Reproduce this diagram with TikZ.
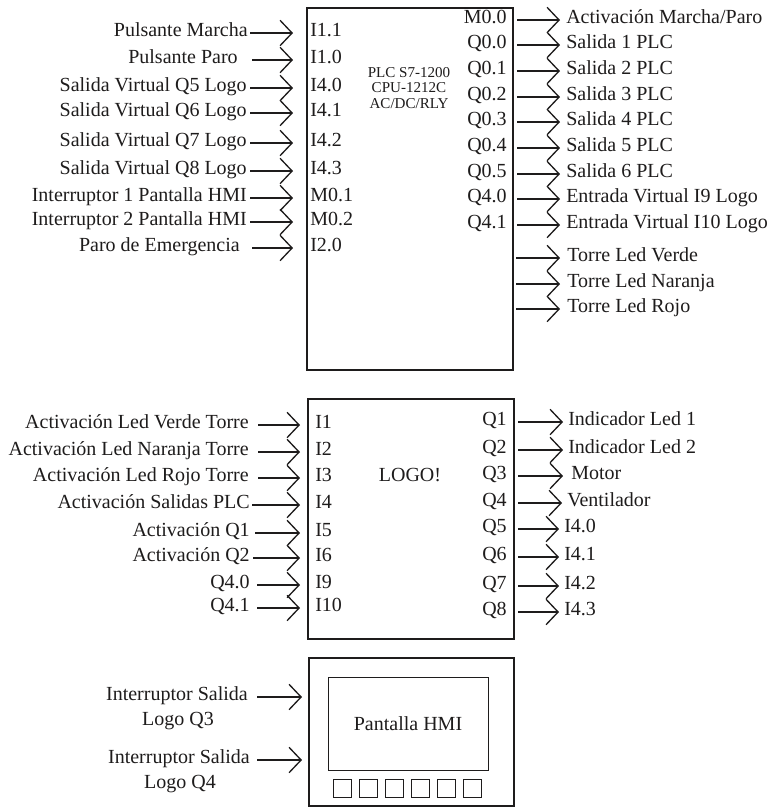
\documentclass[tikz,border=0pt]{standalone}
\usepackage{fontspec}
\setmainfont{Liberation Serif}
\usetikzlibrary{arrows.meta}
\definecolor{ink}{RGB}{30,28,28}
\begin{document}
\begin{tikzpicture}[x=0.75pt,y=-0.75pt,
  lbl/.style={font=\fontsize{15}{18}\selectfont, inner sep=0pt, text height=1.5ex, text depth=0.25ex, text=ink},
  small/.style={font=\fontsize{11.3}{11.6}\selectfont, inner sep=0pt, align=center, text=ink},
  boxst/.style={draw=ink, line width=1.2pt, inner sep=0pt, anchor=north west},
  btn/.style={draw=ink, line width=0.9pt, inner sep=0pt, anchor=north west, minimum width=13.5pt, minimum height=13.5pt},
  arr/.style={draw=ink, line width=1pt, -{Straight Barb[length=9pt,width=19pt,line width=1pt]}},
]
\useasboundingbox[fill=white] (0,0) rectangle (773,808);

% ---------------- PLC ----------------
\node[boxst, minimum width=154.5pt, minimum height=271.5pt] (plc) at (306,7) {};
\node[small] (plctxt) at (409,88) {PLC S7-1200\\CPU-1212C\\AC/DC/RLY};

\foreach \n/\y/\txt/\le/\ls/\port in {
 1/33/{Pulsante Marcha}/248/250/I1.1,
 2/60/{Pulsante Paro}/238/252/I1.0,
 3/88/{Salida Virtual Q5 Logo}/247/250/I4.0,
 4/113/{Salida Virtual Q6 Logo}/247/250/I4.1,
 5/143/{Salida Virtual Q7 Logo}/247/250/I4.2,
 6/171/{Salida Virtual Q8 Logo}/247/250/I4.3,
 7/198/{Interruptor 1 Pantalla HMI}/247/250/M0.1,
 8/222/{Interruptor 2 Pantalla HMI}/247/250/M0.2,
 9/248/{Paro de Emergencia}/240/252/I2.0}
{
 \node[lbl, anchor=east] (pin\n) at (\le,\y) {\txt};
 \node[lbl, anchor=west] (pip\n) at (310,\y) {\port};
 \pgfmathsetmacro\ga{(\ls-\le)*0.75}
 \draw[arr] ([xshift=\ga pt]pin\n.east) -- ([xshift=-12.75pt]pip\n.west);
}

\foreach \n/\y/\port/\txt in {
 1/20/M0.0/{Activación Marcha/Paro},
 2/45/Q0.0/{Salida 1 PLC},
 3/71/Q0.1/{Salida 2 PLC},
 4/97/Q0.2/{Salida 3 PLC},
 5/122/Q0.3/{Salida 4 PLC},
 6/148/Q0.4/{Salida 5 PLC},
 7/174/Q0.5/{Salida 6 PLC},
 8/199/Q4.0/{Entrada Virtual I9 Logo},
 9/225/Q4.1/{Entrada Virtual I10 Logo}}
{
 \node[lbl, anchor=east] (pop\n) at (507,\y) {\port};
 \node[lbl, anchor=west] (pout\n) at (566,\y) {\txt};
 \draw[arr] ([xshift=7.5pt]pop\n.east) -- ([xshift=-4.5pt]pout\n.west);
}

\foreach \n/\y/\txt in {1/258/{Torre Led Verde}, 2/284/{Torre Led Naranja}, 3/309/{Torre Led Rojo}}
{
 \node[lbl, anchor=west] (torre\n) at (567,\y) {\txt};
 \coordinate (tc\n) at (516,\y);
 \draw[arr] (tc\n) -- ([xshift=-5.25pt]torre\n.west);
}

% ---------------- LOGO ----------------
\node[boxst, minimum width=154.5pt, minimum height=180pt] (logo) at (307,398) {};
\node[lbl] (logotxt) at (410,478) {LOGO!};

\foreach \n/\y/\txt/\le/\ls/\port in {
 1/425/{Activación Led Verde Torre}/249/258/I1,
 2/452/{Activación Led Naranja Torre}/249/258/I2,
 3/478/{Activación Led Rojo Torre}/249/258/I3,
 4/505/{Activación Salidas PLC}/250/252/I4,
 5/533/{Activación Q1}/250/255/I5,
 6/558/{Activación Q2}/250/253/I6,
 7/585/{Q4.0}/250/257/I9,
 8/608/{Q4.1}/250/257/I10}
{
 \node[lbl, anchor=east] (lin\n) at (\le,\y) {\txt};
 \node[lbl, anchor=west] (lip\n) at (315,\y) {\port};
 \pgfmathsetmacro\ga{(\ls-\le)*0.75}
 \draw[arr] ([xshift=\ga pt]lin\n.east) -- ([xshift=-11.25pt]lip\n.west);
}

\foreach \n/\y/\port/\txt/\tp/\tx in {
 1/422/Q1/{Indicador Led 1}/563/568,
 2/450/Q2/{Indicador Led 2}/563/568,
 3/476/Q3/{Motor}/563/571,
 4/503/Q4/{Ventilador}/562/567,
 5/529/Q5/{I4.0}/559/564,
 6/557/Q6/{I4.1}/559/564,
 7/586/Q7/{I4.2}/559/564,
 8/612/Q8/{I4.3}/559/564}
{
 \node[lbl, anchor=east] (lop\n) at (507,\y) {\port};
 \node[lbl, anchor=west] (lout\n) at (\tx,\y) {\txt};
 \pgfmathsetmacro\gb{(\tx-\tp)*0.75}
 \draw[arr] ([xshift=8.25pt]lop\n.east) -- ([xshift=-\gb pt]lout\n.west);
}

% ---------------- HMI ----------------
\node[boxst, minimum width=153.75pt, minimum height=111pt] (hmi) at (308,657) {};
\node[boxst, line width=1pt, minimum width=120pt, minimum height=69.75pt] (scr) at (328,677) {};
\node[lbl] (scrtxt) at (408,727) {Pantalla HMI};
\foreach \i in {0,...,5}{
 \node[btn] (b\i) at ({333+26*\i},779) {};
}

\node[lbl, anchor=east] (h1) at (248,697) {Interruptor Salida};
\node[lbl] (h1b) at (178,722) {Logo Q3};
\node[lbl, anchor=east] (h2) at (250,760) {Interruptor Salida};
\node[lbl] (h2b) at (180,785) {Logo Q4};
\draw[arr, shorten >=4.5pt] ([xshift=6.75pt]h1.east) -- (h1.east -| hmi.west);
\draw[arr, shorten >=4.5pt] ([xshift=5.25pt]h2.east) -- (h2.east -| hmi.west);
\end{tikzpicture}
\end{document}
